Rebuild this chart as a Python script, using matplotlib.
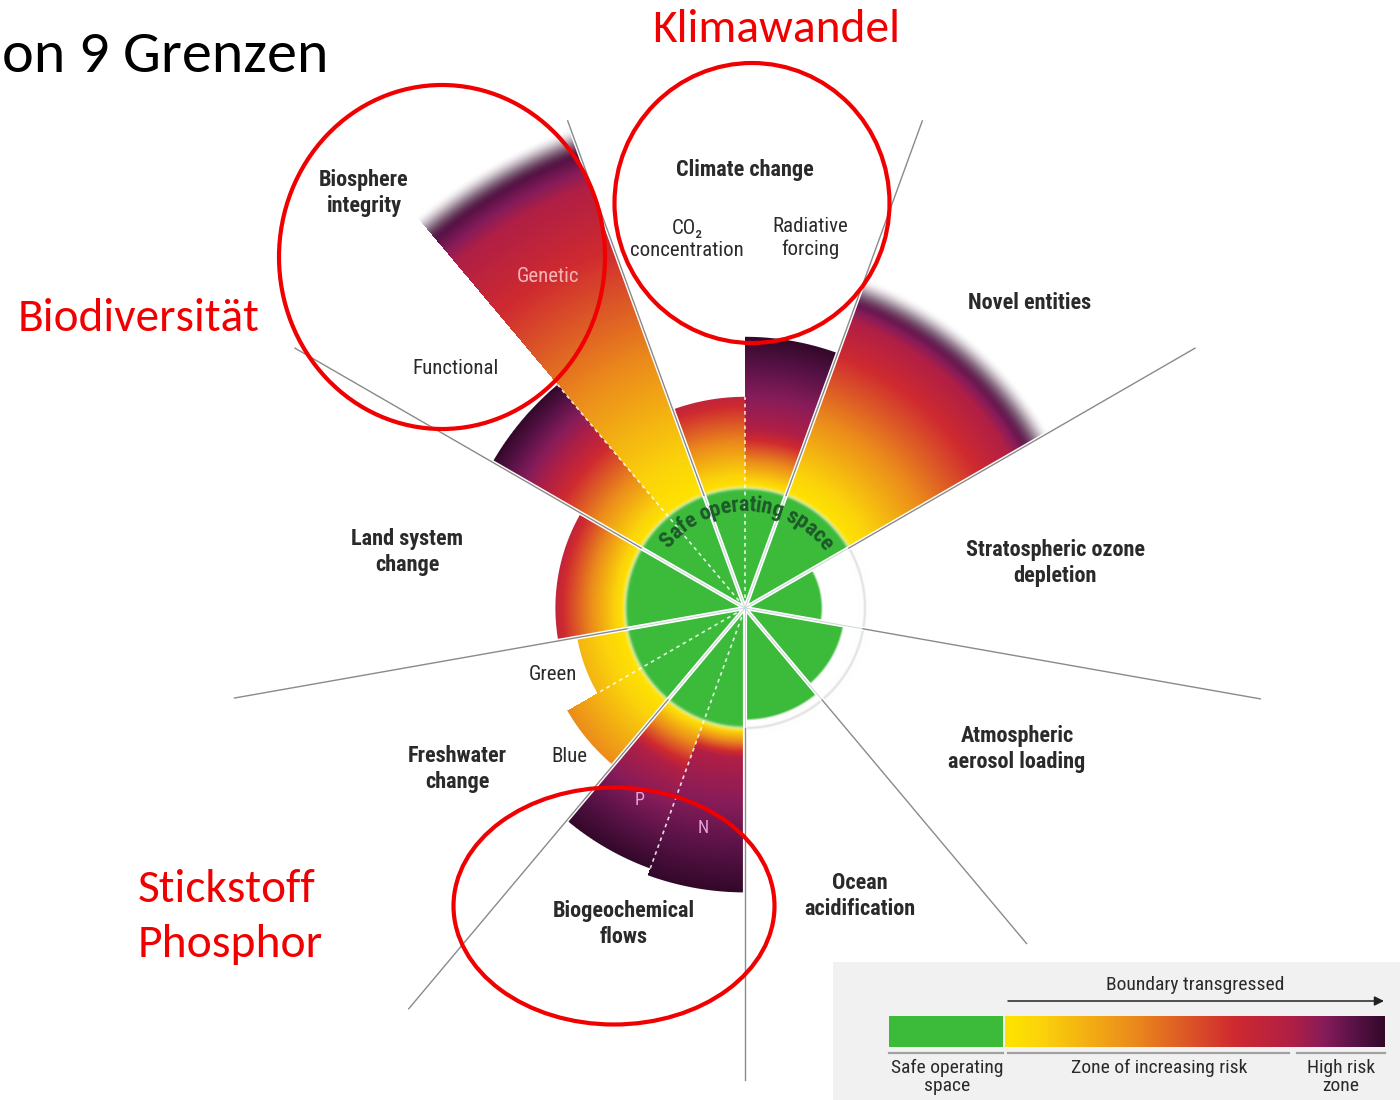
import numpy as np
import matplotlib
matplotlib.use('Agg')
import matplotlib.pyplot as plt
from matplotlib import font_manager as fm
from matplotlib.textpath import TextToPath
from matplotlib.colors import LinearSegmentedColormap, to_rgb
from matplotlib.patches import Ellipse, Rectangle

# ---------------- data ----------------
boundary_labels = ['Climate change', 'Novel entities', 'Stratospheric ozone\ndepletion',
                   'Atmospheric\naerosol loading', 'Ocean\nacidification', 'Biogeochemical\nflows',
                   'Freshwater\nchange', 'Land system\nchange', 'Biosphere\nintegrity']
# control variables, clockwise from the top-left of "Climate change"
segment_labels = ['CO₂\nconcentration', 'Radiative\nforcing', '', '', '', '',
                  'N', 'P', 'Blue', 'Green', '', 'Functional', 'Genetic']
segment_parent = [0, 0, 1, 2, 3, 4, 5, 5, 6, 6, 7, 8, 8]
# status in multiples of the planetary boundary (1 = boundary)
segment_value = [1.76, 2.26, 2.80, 0.64, 0.83, 0.93, 2.37, 2.31, 1.71, 1.42, 1.58, 2.43, 4.13]
# start of the high-risk zone (same units)
segment_high_risk = [1.85, 1.50, 2.55, 2.0, 2.0, 2.0, 1.25, 1.45, 2.6, 2.6, 1.65, 1.95, 3.75]
segment_uncertain = [False, False, True, False, False, False, False, False,
                     False, False, False, False, True]
legend_labels = ['Safe operating\nspace', 'Zone of increasing risk', 'High risk\nzone']
legend_title = 'Boundary transgressed'
safe_label = 'Safe operating space'
title_text = 'on 9 Grenzen'
annotation_texts = ['Klimawandel', 'Biodiversität', 'Stickstoff', 'Phosphor']

# ---------------- layout ----------------
W, H = 1400, 1100
CX, CY, S = 745.0, 608.0, 120.0
START, SPAN = 110.0, 40.0
sep_len = [4.32, 4.32, 4.33, 4.36, 3.65, 3.93, 4.36, 4.32, 4.33]
boundary_label_pos = [(745, 170), (1030, 303), (1055, 563), (1017, 749), (860, 896),
                      (624, 924), (457, 769), (407, 552), (364, 193)]
segment_label_pos = [(687, 239), (810, 238), None, None, None, None,
                     (703, 828), (640, 800), (569, 756), (553, 675), None, (456, 369), (548, 277)]
segment_label_col = ['#2a2a2a', '#2a2a2a', None, None, None, None,
                     '#e6a3d6', '#e6a3d6', '#2a2a2a', '#2a2a2a', None, '#2a2a2a', '#f5b4b6']
GREEN = '#3cba3a'
RED = '#f00000'
TXT = '#2a2a2a'


def font_ok(name):
    try:
        fm.findfont(fm.FontProperties(family=name), fallback_to_default=False)
        return True
    except Exception:
        return False


def pick(cands):
    for c in cands:
        if font_ok(c):
            return c
    return 'DejaVu Sans'


NARROW = pick(['Liberation Sans Narrow', 'Roboto Condensed', 'Roboto', 'Liberation Sans'])
CAL = pick(['Carlito', 'Lato', 'Open Sans'])
t2p = TextToPath()


def width_px(s, family, size, weight='normal'):
    prop = fm.FontProperties(family=family, size=size, weight=weight)
    w, h, d = t2p.get_text_width_height_descent(s, prop, ismath=False)
    return w * 100.0 / 72.0


def fit_size(s, family, target, weight='normal'):
    return 20.0 * target / width_px(s, family, 20.0, weight)


fig = plt.figure(figsize=(W / 100, H / 100), dpi=100)
ax = fig.add_axes([0, 0, 1, 1])
ax.set_xlim(0, W)
ax.set_ylim(H, 0)
ax.axis('off')

# ---------------- radial gradient image ----------------
nb = len(boundary_labels)
half = 540
xs = CX - half + np.arange(2 * half) + 0.5
ys = CY - half + np.arange(2 * half) + 0.5
X, Y = np.meshgrid(xs, ys)
DX = (X - CX) / S
DY = (CY - Y) / S
R = np.hypot(DX, DY)
TH = np.degrees(np.arctan2(DY, DX))
phi = np.mod(START - TH, 360.0)
nsub = np.bincount(np.array(segment_parent), minlength=nb)
lookup = np.zeros((nb, nsub.max()), int)
for i, p in enumerate(segment_parent):
    lookup[p, segment_parent[:i].count(p)] = i
b = np.clip((phi // SPAN).astype(int), 0, nb - 1)
ns = nsub[b]
k = np.clip(((phi - b * SPAN) // (SPAN / ns)).astype(int), 0, ns - 1)
seg = lookup[b, k]
val = np.array(segment_value)[seg]
hr = np.array(segment_high_risk)[seg]
unc = np.array(segment_uncertain)[seg]

risk_cmap = LinearSegmentedColormap.from_list('risk', [(0, '#ffe400'), (0.12, '#fbd40a'),
                                                       (0.45, '#eb8a1c'), (0.8, '#cf2a30'),
                                                       (1.0, '#b01f45')])
high_cmap = LinearSegmentedColormap.from_list('high', [(0, '#b01f45'), (0.35, '#861c5a'),
                                                       (0.7, '#561245'), (1.0, '#33082a')])
t1 = np.clip((R - 1) / (hr - 1), 0, 1)
t2 = np.clip((R - hr) / np.maximum(val - hr, 0.25), 0, 1)
col = np.where((R <= hr)[..., None], risk_cmap(t1)[..., :3], high_cmap(t2)[..., :3])
green = np.array(to_rgb(GREEN))
trans = val > 1
gw = np.where(trans, np.clip((1.02 - R) / 0.04, 0, 1), 1.0)
gw = gw * gw * (3 - 2 * gw)
col = gw[..., None] * green + (1 - gw[..., None]) * col
glow = np.where(trans, 0.45 * np.exp(-((R - 1.0) / 0.018) ** 2), 0.0)
col = col + glow[..., None] * (1 - col)
a_sharp = np.clip((val - R) * S + 0.5, 0, 1)
a_soft = np.clip((val + 0.13 - R) / 0.26, 0, 1)
a_soft = a_soft * a_soft * (3 - 2 * a_soft)
a_green = np.clip((val - R) * S / 2.5 + 0.5, 0, 1)
alpha = np.where(trans, np.where(unc, a_soft, a_sharp), a_green)
ring = np.where(~trans & (R > val), 0.11 * np.exp(-(((R - 1) * S) / 1.4) ** 2), 0.0)
rgb = alpha[..., None] * col + (1 - alpha[..., None])
rgb = np.clip(rgb - ring[..., None], 0, 1)
ax.imshow(rgb, extent=(CX - half, CX + half, CY + half, CY - half),
          interpolation='nearest', zorder=1, aspect='auto')

# ---------------- separators ----------------
for i in range(nb):
    ang = np.radians(START - SPAN * i)
    L = sep_len[i] * S
    x1, y1 = CX + L * np.cos(ang), CY - L * np.sin(ang)
    ax.plot([CX, x1], [CY, y1], color='white', lw=3.0, solid_capstyle='butt', zorder=2)
    xm, ym = CX + S * np.cos(ang), CY - S * np.sin(ang)
    ax.plot([CX, xm], [CY, ym], color='#c9d6d6', lw=0.7, zorder=2.1)
    ax.plot([xm, x1], [ym, y1], color='#8a8a8a', lw=1.0, zorder=2.1)

# dashed sub-dividers
seg_start = []
for i, p in enumerate(segment_parent):
    kk = segment_parent[:i].count(p)
    seg_start.append(START - p * SPAN - kk * SPAN / nsub[p])
for i in range(len(segment_parent) - 1):
    if segment_parent[i] == segment_parent[i + 1]:
        ang = np.radians(seg_start[i + 1])
        rm = min(segment_value[i], segment_value[i + 1]) * S
        ax.plot([CX + 0.08 * S * np.cos(ang), CX + rm * np.cos(ang)],
                [CY - 0.08 * S * np.sin(ang), CY - rm * np.sin(ang)],
                color='white', lw=1.2, ls=(0, (2.2, 2.2)), alpha=0.85, zorder=2.2)

# ---------------- labels ----------------
for lab, (x, y) in zip(boundary_labels, boundary_label_pos):
    ax.text(x, y, lab, family=[NARROW, 'DejaVu Sans'], fontsize=16, weight='bold', color=TXT,
            ha='center', va='center', multialignment='center', linespacing=1.2, zorder=3)
for lab, pos, c in zip(segment_labels, segment_label_pos, segment_label_col):
    if pos is None or not lab:
        continue
    fs = 13 if len(lab) == 1 else 15
    ax.text(pos[0], pos[1], lab, family=[NARROW, 'DejaVu Sans'], fontsize=fs, color=c,
            ha='center', va='center', multialignment='center', linespacing=1.2, zorder=3)

# curved "Safe operating space"
r_txt = 0.855 * S
arc_deg = 106.0
fs_safe = fit_size(safe_label, NARROW, np.radians(arc_deg) * r_txt, 'bold')
tot = width_px(safe_label, NARROW, fs_safe, 'bold')
for i, ch in enumerate(safe_label):
    if ch == ' ':
        continue
    cw = width_px(ch, NARROW, fs_safe, 'bold')
    cpos = width_px(safe_label[:i + 1], NARROW, fs_safe, 'bold') - cw / 2
    ang = 89.0 + np.degrees((tot / 2 - cpos) / r_txt)
    a = np.radians(ang)
    ax.text(CX + r_txt * np.cos(a), CY - r_txt * np.sin(a), ch, family=NARROW, weight='bold',
            fontsize=fs_safe, color='#1d5a2a', rotation=ang - 90, rotation_mode='anchor',
            ha='center', va='center', zorder=3)

# ---------------- legend ----------------
ax.add_patch(Rectangle((833, 962), 567, 140, facecolor='#f1f1f1', edgecolor='none', zorder=1))
ax.add_patch(Rectangle((889, 1016), 114, 31, facecolor=GREEN, edgecolor='none', zorder=2))
g = np.linspace(0, 1, 380)
split = 0.755
lg = np.where((g <= split)[:, None], risk_cmap(np.clip(g / split, 0, 1))[:, :3],
              high_cmap(np.clip((g - split) / (1 - split), 0, 1))[:, :3])
ax.imshow(np.repeat(lg[None, :, :], 2, axis=0), extent=(1005, 1385, 1047, 1016),
          interpolation='bilinear', aspect='auto', zorder=2)
for x0, x1 in [(889, 1003), (1008, 1289), (1297, 1385)]:
    ax.plot([x0, x1], [1053, 1053], color='#a0a0a0', lw=1.6, zorder=2)
ax.annotate('', xy=(1384, 1001), xytext=(1008, 1001),
            arrowprops=dict(arrowstyle='-|>', color='#222222', lw=1.1, mutation_scale=14,
                            shrinkA=0, shrinkB=0), zorder=3)
ax.text(1195, 985, legend_title, family=NARROW, fontsize=14, color=TXT, ha='center',
        va='center', zorder=3)
for lab, x in zip(legend_labels, [947, 1159, 1341]):
    y = 1068 if '\n' not in lab else 1077
    ax.text(x, y, lab, family=NARROW, fontsize=14, color=TXT, ha='center', va='center',
            multialignment='center', linespacing=0.95, zorder=3)

# ---------------- annotations ----------------
fs_title = fit_size('n 9 Grenzen', CAL, 295)
ax.text(2, 72, title_text, family=CAL, fontsize=fs_title, color='black',
        ha='left', va='baseline', zorder=3)
red_pos = [(652, 42, 248), (18, 331, 242), (138, 902, 178), (138, 957, 185)]
for txt, (x, y, w) in zip(annotation_texts, red_pos):
    ax.text(x, y, txt, family=CAL, fontsize=fit_size(txt, CAL, w), color=RED,
            ha='left', va='baseline', zorder=3)
for (ex, ey, ew, eh) in [(442, 257, 326, 344), (752, 203, 275, 280), (614, 906, 321, 237)]:
    ax.add_patch(Ellipse((ex, ey), ew, eh, facecolor='none', edgecolor=RED, lw=3.0, zorder=4))

fig.savefig('out.png', dpi=100)
